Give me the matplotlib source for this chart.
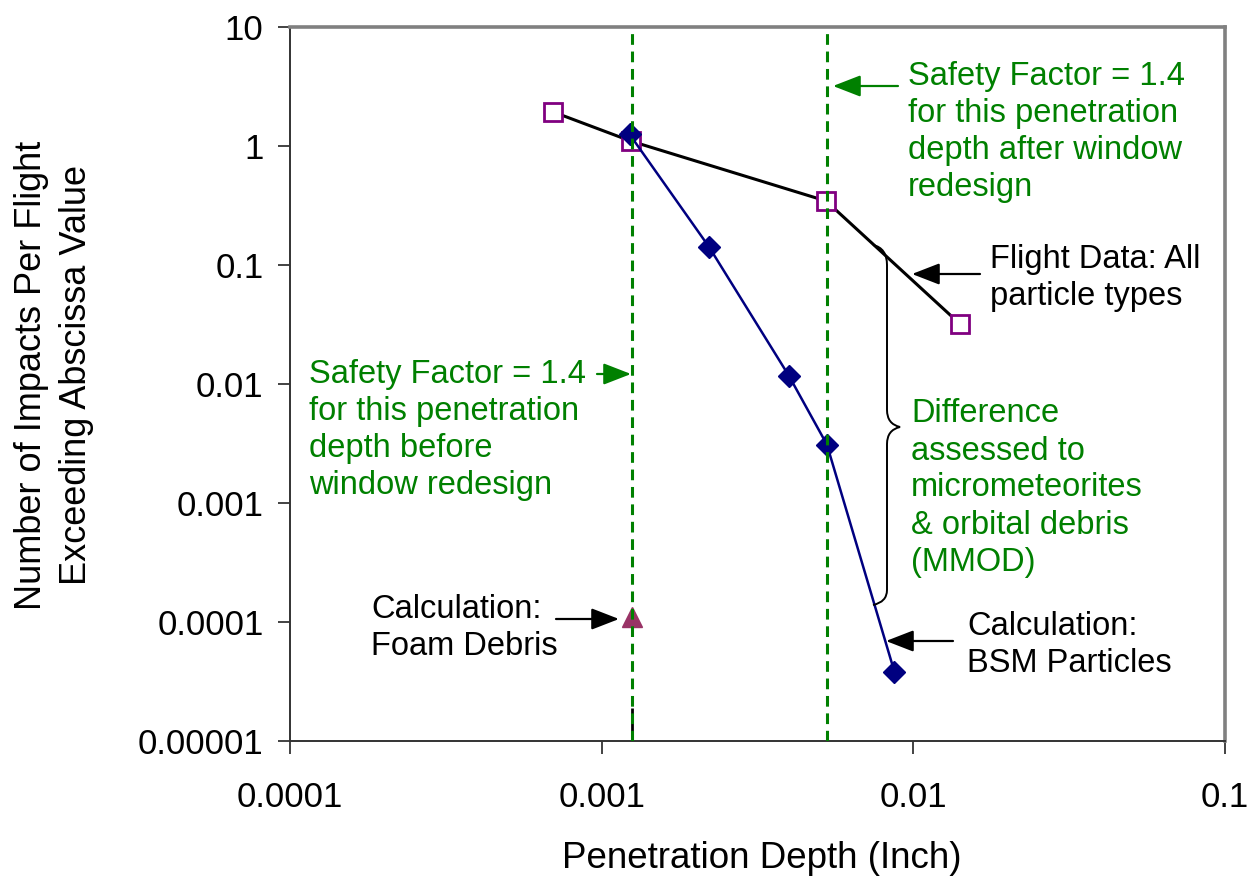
import matplotlib.pyplot as plt
from matplotlib.path import Path
from matplotlib.patches import PathPatch

plt.rcParams['font.family'] = ['Liberation Sans', 'DejaVu Sans']

# flight data, all particle types
flight_x = [7.0e-4, 1.24e-3, 5.25e-3, 1.41e-2]
flight_y = [1.93, 1.10, 0.345, 0.032]
# calculation, BSM particles
bsm_x = [1.23e-3, 2.21e-3, 3.99e-3, 5.28e-3, 8.7e-3]
bsm_y = [1.25, 0.142, 0.0117, 0.0031, 3.8e-5]
# calculation, foam debris
foam_x = [1.25e-3]
foam_y = [1.1e-4]
# safety factor lines
sf_before = 1.25e-3
sf_after = 5.3e-3

xticks = [1e-4, 1e-3, 1e-2, 1e-1]
xlabels = ['0.0001', '0.001', '0.01', '0.1']
yticks = [1e-5, 1e-4, 1e-3, 1e-2, 1e-1, 1, 10]
ylabels = ['0.00001', '0.0001', '0.001', '0.01', '0.1', '1', '10']

W, H = 1259, 881
fig = plt.figure(figsize=(W / 100, H / 100), dpi=100)
ax = fig.add_axes([290 / W, 1 - 741 / H, 935 / W, 714 / H])

def fp(x, y):
    # pixel position (from top-left) -> figure fraction
    return (x / W, 1 - y / H)

green = '#008000'
ax.set_xscale('log')
ax.set_yscale('log')
ax.set_xlim(1e-4, 1e-1)
ax.set_ylim(1e-5, 10)

ax.plot(flight_x, flight_y, color='black', lw=2.2, marker='s', ms=13,
        mfc='white', mec='#800080', mew=2, zorder=3)
ax.plot(bsm_x, bsm_y, color='#000080', lw=1.8, marker='D', ms=11,
        mfc='#000080', mec='#000080', zorder=4)
ax.plot(foam_x, foam_y, ls='none', marker='^', ms=15, color='#993366', zorder=4)
ax.vlines(sf_before, 1e-5, 1.9e-5, color='black', lw=2, zorder=5)
for xv in [sf_before, sf_after]:
    ax.axvline(xv, color=green, lw=2.2, dashes=(3.5, 2.2), zorder=6)

ax.set_xticks(xticks)
ax.set_xticklabels(xlabels)
ax.set_yticks(yticks)
ax.set_yticklabels(ylabels)
ax.minorticks_off()
ax.tick_params(axis='both', direction='out', length=9, width=1.2,
               labelsize=25, colors='#222222', labelcolor='black')
ax.tick_params(axis='x', pad=20)
ax.tick_params(axis='y', pad=10)
for s in ['left', 'bottom']:
    ax.spines[s].set_color('#333333')
    ax.spines[s].set_linewidth(1.4)
for s in ['top', 'right']:
    ax.spines[s].set_color('#808080')
    ax.spines[s].set_linewidth(2.6)

fig.text(*fp(762, 858), 'Penetration Depth (Inch)', fontsize=26.5,
         ha='center', va='center')
fig.text(*fp(54, 375), 'Number of Impacts Per Flight\nExceeding Abscissa Value',
         fontsize=26, rotation=90, ha='center', va='center', linespacing=1.4)

LS = 1.25

def note(txt, pos, tail, tip, color):
    fig.text(*fp(*pos), txt, fontsize=23.5, color=color, ha='left',
             va='center', linespacing=LS)
    ax.annotate('', xy=fp(*tip), xytext=fp(*tail), xycoords='figure fraction',
                textcoords='figure fraction',
                arrowprops=dict(arrowstyle='-|>,head_length=0.85,head_width=0.33',
                                mutation_scale=20, color=color, lw=1.6,
                                shrinkA=0, shrinkB=0))

note('Safety Factor = 1.4\nfor this penetration\ndepth after window\nredesign',
     (908, 132), (898, 86), (833, 86), green)
note('Safety Factor = 1.4\nfor this penetration\ndepth before\nwindow redesign',
     (309, 430), (597, 374), (631, 374), green)
note('Flight Data: All\nparticle types', (990, 278), (980, 274), (912, 274), 'black')
note('Calculation:\nFoam Debris', (371, 628), (556, 619), (619, 619), 'black')
note('Calculation:\nBSM Particles', (967, 645), (953, 641), (886, 641), 'black')
fig.text(*fp(911, 488), 'Difference\nassessed to\nmicrometeorites\n& orbital debris\n(MMOD)',
         fontsize=23.5, color=green, ha='left', va='center', linespacing=LS)

# curly brace
pts = [(873, 245), (887, 248), (887, 265), (887, 410), (887, 424), (900, 427),
       (887, 430), (887, 444), (887, 590), (887, 602), (873, 605)]
codes = [Path.MOVETO, Path.CURVE3, Path.CURVE3, Path.LINETO, Path.CURVE3, Path.CURVE3,
         Path.CURVE3, Path.CURVE3, Path.LINETO, Path.CURVE3, Path.CURVE3]
brace = Path([fp(*p) for p in pts], codes)
fig.add_artist(PathPatch(brace, transform=fig.transFigure, fc='none',
                         ec='black', lw=1.4))

fig.savefig('out.png', dpi=100)
